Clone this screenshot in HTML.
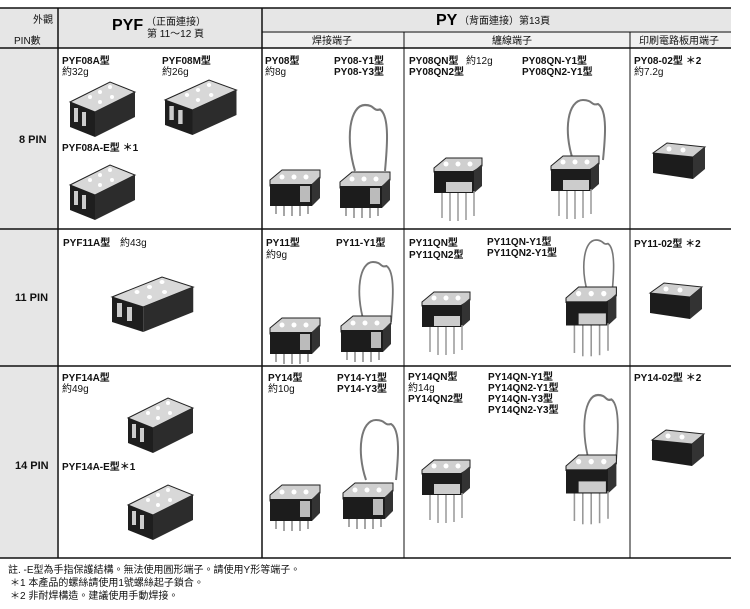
<!DOCTYPE html>
<html><head><meta charset="utf-8"><style>
body{margin:0;background:#fff;}
svg{display:block;font-family:"Liberation Sans","Noto Sans CJK TC",sans-serif;}
.t{font-size:10px;fill:#111;}
.b{font-size:10px;fill:#111;font-weight:bold;}
</style></head><body>
<svg width="750" height="609" viewBox="0 0 750 609" xmlns="http://www.w3.org/2000/svg">
<defs>
<g id="rail">
 <polygon points="0,20 40,0 65,10 25,30" fill="#d8d8d8" stroke="#222" stroke-width="1"/>
 <polygon points="0,20 25,30 25,55 0,45" fill="#1e1e1e"/>
 <polygon points="25,30 65,10 65,35 25,55" fill="#2c2c2c"/>
 <rect x="4" y="26" width="4" height="14" fill="#ccc"/><rect x="12" y="30" width="4" height="14" fill="#ccc"/>
 <circle cx="20" cy="15" r="2" fill="#fff"/><circle cx="30" cy="10" r="2" fill="#fff"/><circle cx="40" cy="5" r="2" fill="#fff"/><circle cx="30" cy="20" r="2" fill="#fff"/><circle cx="42" cy="15" r="2" fill="#fff"/>
</g>
<g id="sock">
 <polygon points="0,10 12,0 50,0 50,8 40,16 0,16" fill="#cfcfcf" stroke="#222"/>
 <rect x="0" y="14" width="42" height="22" fill="#1c1c1c"/>
 <polygon points="42,14 50,6 50,28 42,36" fill="#333"/>
 <rect x="30" y="16" width="10" height="16" fill="#bbb"/>
 <circle cx="12" cy="7" r="2.5" fill="#fff"/><circle cx="24" cy="7" r="2.5" fill="#fff"/><circle cx="36" cy="7" r="2.5" fill="#fff"/>
 <g stroke="#888" stroke-width="1.5"><line x1="6" y1="36" x2="6" y2="44"/><line x1="14" y1="36" x2="14" y2="46"/><line x1="22" y1="36" x2="22" y2="46"/><line x1="30" y1="36" x2="30" y2="46"/><line x1="38" y1="36" x2="38" y2="44"/></g>
</g>
<g id="qn">
 <polygon points="0,10 12,0 48,0 48,8 38,14 0,14" fill="#cfcfcf" stroke="#222"/>
 <rect x="0" y="13" width="40" height="22" fill="#1c1c1c"/>
 <polygon points="40,13 48,6 48,28 40,35" fill="#333"/>
 <rect x="12" y="24" width="26" height="10" fill="#ccc"/>
 <circle cx="12" cy="6" r="2.5" fill="#fff"/><circle cx="24" cy="6" r="2.5" fill="#fff"/><circle cx="36" cy="6" r="2.5" fill="#fff"/>
 <g stroke="#999" stroke-width="1.5"><line x1="8" y1="35" x2="8" y2="60"/><line x1="16" y1="35" x2="16" y2="63"/><line x1="24" y1="35" x2="24" y2="63"/><line x1="32" y1="35" x2="32" y2="62"/><line x1="40" y1="33" x2="40" y2="58"/></g>
</g>
<g id="pcb">
 <polygon points="0,10 14,0 52,4 40,14" fill="#cfcfcf" stroke="#222"/>
 <polygon points="0,10 40,14 40,36 0,30" fill="#1c1c1c"/>
 <polygon points="40,14 52,4 52,26 40,36" fill="#333"/>
 <circle cx="16" cy="6" r="2.5" fill="#fff"/><circle cx="30" cy="7" r="2.5" fill="#fff"/>
</g>
<path id="wire" d="M10,60 C0,30 5,0 20,0 C30,0 28,6 35,4 C45,10 42,40 40,60" fill="none" stroke="#777" stroke-width="2"/>
</defs>

<rect x="0" y="8" width="731" height="40" fill="#e6e6e6"/>
<rect x="0" y="48" width="57" height="510" fill="#e6e6e6"/>
<rect x="262" y="33" width="469" height="15" fill="#f0f0f0"/>

<g stroke="#111" fill="none">
 <line x1="0" y1="8" x2="731" y2="8" stroke-width="1.5"/>
 <line x1="0" y1="48" x2="731" y2="48" stroke-width="1.5"/>
 <line x1="262" y1="32" x2="731" y2="32"/>
 <line x1="0" y1="229" x2="731" y2="229" stroke-width="1.5"/>
 <line x1="0" y1="366" x2="731" y2="366" stroke-width="1.5"/>
 <line x1="0" y1="558" x2="731" y2="558" stroke-width="1.5"/>
 <line x1="58" y1="8" x2="58" y2="558" stroke-width="1.5"/>
 <line x1="262" y1="8" x2="262" y2="558" stroke-width="1.5"/>
 <line x1="404" y1="32" x2="404" y2="558"/>
 <line x1="630" y1="32" x2="630" y2="558"/>
</g>

<text class="t" x="33" y="23">外觀</text>
<text class="t" x="14" y="44">PIN數</text>
<text x="112" y="30" style="font-size:16px;font-weight:bold">PYF</text>
<text class="t" x="146" y="25">（正面連接）</text>
<text class="t" x="147" y="37">第 11～12 頁</text>
<text x="436" y="25" style="font-size:16px;font-weight:bold">PY</text>
<text class="t" x="459" y="24">（背面連接）第13頁</text>
<text class="t" x="312" y="44">焊接端子</text>
<text class="t" x="492" y="44">纏線端子</text>
<text class="t" x="639" y="44">印刷電路板用端子</text>

<text class="b" x="19" y="143" style="font-size:11px">8 PIN</text>
<text class="b" x="15" y="301" style="font-size:11px">11 PIN</text>
<text class="b" x="15" y="469" style="font-size:11px">14 PIN</text>

<text class="b" x="62" y="64">PYF08A型</text><text class="t" x="62" y="75">約32g</text>
<text class="b" x="162" y="64">PYF08M型</text><text class="t" x="162" y="75">約26g</text>
<text class="b" x="62" y="151">PYF08A-E型 ＊1</text>
<text class="b" x="265" y="64">PY08型</text><text class="t" x="265" y="75">約8g</text>
<text class="b" x="334" y="64">PY08-Y1型</text><text class="b" x="334" y="75">PY08-Y3型</text>
<text class="b" x="409" y="64">PY08QN型</text><text class="t" x="466" y="64">約12g</text><text class="b" x="409" y="75">PY08QN2型</text>
<text class="b" x="522" y="64">PY08QN-Y1型</text><text class="b" x="522" y="75">PY08QN2-Y1型</text>
<text class="b" x="634" y="64">PY08-02型 ＊2</text><text class="t" x="634" y="75">約7.2g</text>

<text class="b" x="63" y="246">PYF11A型</text><text class="t" x="120" y="246">約43g</text>
<text class="b" x="266" y="246">PY11型</text><text class="t" x="266" y="258">約9g</text>
<text class="b" x="336" y="246">PY11-Y1型</text>
<text class="b" x="409" y="246">PY11QN型</text><text class="b" x="409" y="258">PY11QN2型</text>
<text class="b" x="487" y="245">PY11QN-Y1型</text><text class="b" x="487" y="256">PY11QN2-Y1型</text>
<text class="b" x="634" y="247">PY11-02型 ＊2</text>

<text class="b" x="62" y="381">PYF14A型</text><text class="t" x="62" y="392">約49g</text>
<text class="b" x="62" y="470">PYF14A-E型＊1</text>
<text class="b" x="268" y="381">PY14型</text><text class="t" x="268" y="392">約10g</text>
<text class="b" x="337" y="381">PY14-Y1型</text><text class="b" x="337" y="392">PY14-Y3型</text>
<text class="b" x="408" y="380">PY14QN型</text><text class="t" x="408" y="391">約14g</text><text class="b" x="408" y="402">PY14QN2型</text>
<text class="b" x="488" y="380">PY14QN-Y1型</text><text class="b" x="488" y="391">PY14QN2-Y1型</text><text class="b" x="488" y="402">PY14QN-Y3型</text><text class="b" x="488" y="413">PY14QN2-Y3型</text>
<text class="b" x="634" y="381">PY14-02型 ＊2</text>

<use href="#rail" transform="translate(70,82)"/>
<use href="#rail" transform="translate(165,80) scale(1.1,1)"/>
<use href="#rail" transform="translate(70,165)"/>
<use href="#sock" transform="translate(270,170)"/>
<use href="#wire" transform="translate(345,105) scale(1,1.1)"/>
<use href="#sock" transform="translate(340,172)"/>
<use href="#qn" transform="translate(434,158)"/>
<use href="#wire" transform="translate(563,100)"/>
<use href="#qn" transform="translate(551,156)"/>
<use href="#pcb" transform="translate(653,143)"/>

<use href="#rail" transform="translate(112,277) scale(1.25,1)"/>
<use href="#sock" transform="translate(270,318)"/>
<use href="#wire" transform="translate(355,262) scale(0.9,1)"/>
<use href="#sock" transform="translate(341,316)"/>
<use href="#qn" transform="translate(422,292)"/>
<use href="#wire" transform="translate(580,240) scale(0.8,0.9)"/>
<use href="#qn" transform="translate(566,287) scale(1.05,1.1)"/>
<use href="#pcb" transform="translate(650,283)"/>

<use href="#rail" transform="translate(128,398)"/>
<use href="#rail" transform="translate(128,485)"/>
<use href="#sock" transform="translate(270,485)"/>
<use href="#wire" transform="translate(356,420)"/>
<use href="#sock" transform="translate(343,483)"/>
<use href="#qn" transform="translate(422,460)"/>
<use href="#wire" transform="translate(580,395) scale(0.9,1.1)"/>
<use href="#qn" transform="translate(566,455) scale(1.05,1.1)"/>
<use href="#pcb" transform="translate(652,430)"/>

<text class="t" x="8" y="573">註. -E型為手指保護結構。無法使用圓形端子。請使用Y形等端子。</text>
<text class="t" x="10" y="586">＊1  本產品的螺絲請使用1號螺絲起子鎖合。</text>
<text class="t" x="10" y="599">＊2  非耐焊構造。建議使用手動焊接。</text>
</svg>
</body></html>
